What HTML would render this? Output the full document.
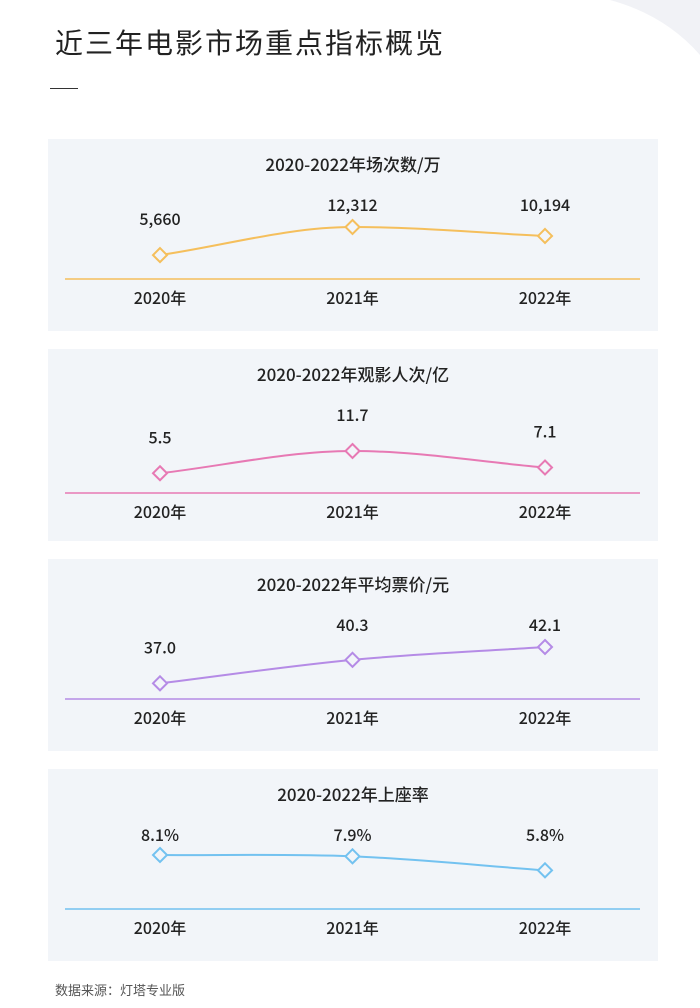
<!DOCTYPE html>
<html><head><meta charset="utf-8">
<style>
body{margin:0;width:700px;height:1008px;background:#fff;position:relative;overflow:hidden;font-family:"Noto Sans CJK SC",sans-serif;color:#222}
.title{position:absolute;left:55px;top:22px;font-size:28px;letter-spacing:2px;color:#222;font-family:"Noto Sans CJK SC",sans-serif}
.rule{position:absolute;left:50px;top:88px;width:28px;height:1px;background:#333}
.src{position:absolute;left:55px;top:980px;font-size:13px;color:#555;font-family:"Noto Sans CJK SC",sans-serif}
svg{position:absolute;left:0;top:0}
svg text{font-family:"Noto Sans CJK SC",sans-serif;font-weight:500}
</style></head><body>
<svg width="700" height="1008">
<path d="M610 0 Q665 15 700 55 L700 0 Z" fill="#f1f2f6"/>
<g id="panels"></g>
</svg>
<div class="title">近三年电影市场重点指标概览</div>
<div class="rule"></div>
<div class="src">数据来源：灯塔专业版</div>
<script>
const years=["2020年","2021年","2022年"];
const titles=["2020-2022年场次数/万","2020-2022年观影人次/亿","2020-2022年平均票价/元","2020-2022年上座率"];
const screenings=[5660,12312,10194];
const admissions=[5.5,11.7,7.1];
const avgPrice=[37.0,40.3,42.1];
const occupancy=[8.1,7.9,5.8];
const screeningLabels=["5,660","12,312","10,194"];
const admissionLabels=["5.5","11.7","7.1"];
const priceLabels=["37.0","40.3","42.1"];
const occupancyLabels=["8.1%","7.9%","5.8%"];
const series=[screenings,admissions,avgPrice,occupancy];
const labels=[screeningLabels,admissionLabels,priceLabels,occupancyLabels];
const domains=[[0,12312],[0,11.7],[34.8,42.1],[0,8.1]];
const heights=[52,42,52,54];
const baseOffsets=[140,144,140,140];
const colors=["#f5bf5c","#e779b4","#b58be6","#73c2f0"];
const tops=[139,349,559,769];
const NS="http://www.w3.org/2000/svg";
const g=document.getElementById("panels");
function mk(t,a){const e=document.createElementNS(NS,t);for(const k in a)e.setAttribute(k,a[k]);return e;}
const xs=i=>160+i*192.5;
series.forEach((vals,p)=>{
  const top=tops[p],base=top+baseOffsets[p],col=colors[p],[d0,d1]=domains[p];
  const y=v=>base-(v-d0)/(d1-d0)*heights[p];
  const bg=mk("rect",{x:48,y:top,width:610,height:192,fill:"#f2f5f9"});
  
  
  g.appendChild(bg);
  const t=mk("text",{x:353,y:top+32,"text-anchor":"middle","font-size":"17","fill":"#222"});
  t.textContent=titles[p];
  
  
  g.appendChild(t);
  const ax=mk("line",{x1:65,x2:640,y1:base,y2:base,stroke:col,"stroke-width":1.5});
  
  
  g.appendChild(ax);
  const pts=vals.map((v,i)=>[xs(i),y(v)]);
  const m=pts.map((pt,i)=>{
    if(i===0)return (pts[1][1]-pts[0][1])/(pts[1][0]-pts[0][0]);
    if(i===pts.length-1)return (pts[i][1]-pts[i-1][1])/(pts[i][0]-pts[i-1][0]);
    const a=(pts[i][1]-pts[i-1][1])/(pts[i][0]-pts[i-1][0]),b=(pts[i+1][1]-pts[i][1])/(pts[i+1][0]-pts[i][0]);
    return a*b<=0?0:(a+b)/2;
  });
  let d="M"+pts[0][0]+" "+pts[0][1];
  for(let i=0;i<pts.length-1;i++){const dx=(pts[i+1][0]-pts[i][0])/3;
    d+=` C${pts[i][0]+dx} ${pts[i][1]+m[i]*dx} ${pts[i+1][0]-dx} ${pts[i+1][1]-m[i+1]*dx} ${pts[i+1][0]} ${pts[i+1][1]}`;}
  const line=mk("path",{d:d,fill:"none",stroke:col,"stroke-width":2});
  
  
  g.appendChild(line);
  pts.forEach(([px,py],i)=>{
    const dm=mk("path",{d:`M${px} ${py-7} L${px+7} ${py} L${px} ${py+7} L${px-7} ${py} Z`,fill:"#f2f5f9",stroke:col,"stroke-width":2});
    
    
    g.appendChild(dm);
    const lb=mk("text",{x:px,y:Math.max(py-36,top+66)+6,"text-anchor":"middle","font-size":"16","fill":"#222"});
    lb.textContent=labels[p][i];
    
    
    g.appendChild(lb);
    const xl=mk("text",{x:px,y:base+25,"text-anchor":"middle","font-size":"16","fill":"#222"});
    xl.textContent=years[i];
    
    
    g.appendChild(xl);
  });
});
</script>
</body></html>
